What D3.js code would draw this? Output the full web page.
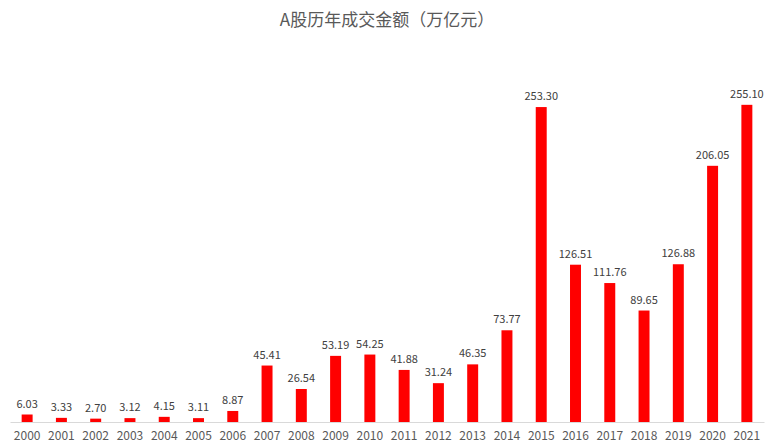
<!DOCTYPE html>
<html>
<head>
<meta charset="utf-8">
<script src="https://cdn.jsdelivr.net/npm/d3@7"></script>
<style>
  body { margin: 0; background: #fff; }
  svg text { font-family: "Noto Sans CJK SC", "DejaVu Sans", sans-serif; }
</style>
</head>
<body>
<div id="chart"></div>
<script>
// Dados do gráfico
const years = ['2000', '2001', '2002', '2003', '2004', '2005', '2006', '2007', '2008', '2009', '2010',
  '2011', '2012', '2013', '2014', '2015', '2016', '2017', '2018', '2019', '2020', '2021'];
const amounts = [6.03, 3.33, 2.70, 3.12, 4.15, 3.11, 8.87, 45.41, 26.54, 53.19, 54.25,
  41.88, 31.24, 46.35, 73.77, 253.30, 126.51, 111.76, 89.65, 126.88, 206.05, 255.10];
const chartTitle = 'A股历年成交金额（万亿元）';

const W = 774, H = 446;
const margin = { top: 49, right: 10, bottom: 24, left: 10 };

const svg = d3.select('#chart')
  .append('svg')
  .attr('width', W)
  .attr('height', H);

// Escalas
const x = d3.scaleBand()
  .domain(years)
  .range([margin.left, W - margin.right])
  .paddingInner(0.68)
  .paddingOuter(0.34);

const y = d3.scaleLinear()
  .domain([0, 300])
  .range([H - margin.bottom, margin.top]);

// Título
svg.append('text')
  .attr('x', W / 2)
  .attr('y', 26)
  .attr('text-anchor', 'middle')
  .style('font-size', '17px')
  .style('fill', '#595959')
  .text(chartTitle);

// Barras
svg.selectAll('.bar')
  .data(amounts)
  .enter()
  .append('rect')
  .attr('class', 'bar')
  .attr('x', (d, i) => x(years[i]))
  .attr('y', d => y(d))
  .attr('width', x.bandwidth())
  .attr('height', d => y(0) - y(d))
  .attr('fill', '#ff0000');

// Rótulos de valor
svg.selectAll('.label')
  .data(amounts)
  .enter()
  .append('text')
  .attr('class', 'label')
  .attr('x', (d, i) => x(years[i]) + x.bandwidth() / 2)
  .attr('y', d => y(d) - 7)
  .attr('text-anchor', 'middle')
  .style('font-size', '11px')
  .style('fill', '#404040')
  .text(d => d.toFixed(2));

// Eixo X
const axis = svg.append('g')
  .attr('transform', `translate(0,${y(0)})`)
  .call(d3.axisBottom(x).tickSize(0).tickPadding(9));

axis.select('.domain').attr('stroke', '#d9d9d9');
axis.selectAll('text')
  .style('font-size', '12px')
  .style('fill', '#595959');
</script>
</body>
</html>
